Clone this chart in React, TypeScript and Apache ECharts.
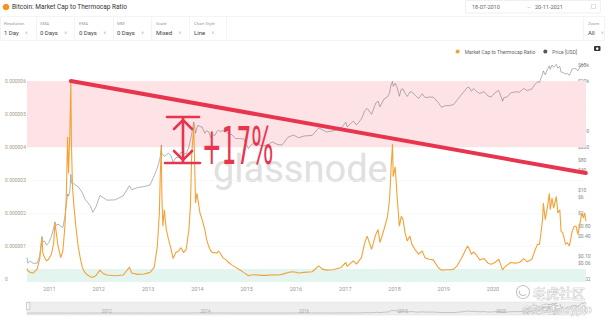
import React, { useEffect, useRef } from 'react';
import * as echarts from 'echarts';

// ---------- data ----------
const dates = [
  '2010-07-18', '2010-07-25', '2010-08-10', '2010-09-01', '2010-10-01', '2010-10-20', '2010-11-06', '2010-11-12', '2010-11-25', '2010-12-10', '2010-12-25',
  '2011-01-15', '2011-02-01', '2011-02-10', '2011-02-20', '2011-03-05', '2011-03-25', '2011-04-10', '2011-04-25', '2011-05-05', '2011-05-15', '2011-05-22', '2011-06-01', '2011-06-08', '2011-06-12', '2011-06-20', '2011-07-01', '2011-07-15', '2011-08-01', '2011-08-15', '2011-09-01', '2011-09-20', '2011-10-10', '2011-11-01', '2011-11-18', '2011-12-10',
  '2012-01-10', '2012-02-01', '2012-03-01', '2012-05-01', '2012-07-01', '2012-08-15', '2012-09-01', '2012-10-15', '2012-12-01',
  '2013-01-15', '2013-02-15', '2013-03-10', '2013-03-25', '2013-04-01', '2013-04-09', '2013-04-12', '2013-04-20', '2013-05-01', '2013-05-15', '2013-06-01', '2013-06-20', '2013-07-05', '2013-07-25', '2013-08-15', '2013-09-01', '2013-09-20', '2013-10-10', '2013-10-30', '2013-11-10', '2013-11-20', '2013-12-01', '2013-12-04', '2013-12-10', '2013-12-18', '2013-12-28',
  '2014-01-05', '2014-01-20', '2014-02-05', '2014-02-25', '2014-03-10', '2014-03-25', '2014-04-10', '2014-04-25', '2014-05-10', '2014-05-25', '2014-06-05', '2014-06-20', '2014-07-10', '2014-08-01', '2014-08-20', '2014-09-15', '2014-10-10', '2014-11-10', '2014-12-10',
  '2015-01-14', '2015-02-01', '2015-03-10', '2015-04-15', '2015-06-01', '2015-07-10', '2015-08-20', '2015-09-20', '2015-11-05', '2015-12-15',
  '2016-01-20', '2016-03-01', '2016-05-01', '2016-06-18', '2016-07-15', '2016-08-15', '2016-10-01', '2016-12-01',
  '2017-01-05', '2017-01-15', '2017-03-01', '2017-03-25', '2017-05-01', '2017-05-25', '2017-06-12', '2017-07-15', '2017-08-15', '2017-09-01', '2017-09-15', '2017-10-15', '2017-11-10', '2017-11-25', '2017-12-07', '2017-12-17', '2017-12-22',
  '2018-01-06', '2018-01-20', '2018-02-06', '2018-02-20', '2018-03-05', '2018-03-20', '2018-04-05', '2018-04-25', '2018-05-10', '2018-06-01', '2018-06-28', '2018-07-25', '2018-08-15', '2018-09-15', '2018-10-15', '2018-11-20', '2018-12-15',
  '2019-01-15', '2019-02-15', '2019-03-15', '2019-04-10', '2019-05-15', '2019-06-26', '2019-07-10', '2019-07-25', '2019-08-10', '2019-09-01', '2019-09-25', '2019-10-27', '2019-11-25', '2019-12-18',
  '2020-01-15', '2020-02-13', '2020-03-12', '2020-03-20', '2020-04-15', '2020-05-10', '2020-06-15', '2020-07-15', '2020-08-15', '2020-09-10', '2020-10-15', '2020-11-05', '2020-11-25', '2020-12-10', '2020-12-20',
  '2021-01-02', '2021-01-08', '2021-01-22', '2021-02-08', '2021-02-21', '2021-02-28', '2021-03-13', '2021-03-25', '2021-04-14', '2021-04-25', '2021-05-10', '2021-05-19', '2021-06-01', '2021-06-22', '2021-07-05', '2021-07-20', '2021-08-10', '2021-08-25', '2021-09-07', '2021-09-21', '2021-10-05', '2021-10-20', '2021-11-01', '2021-11-10', '2021-11-20',
];

// Market Cap to Thermocap Ratio, in millionths (0.000001)
const ratioMicro = [
  0.32, 0.25, 0.2, 0.18, 0.3, 0.6, 1.25, 0.8, 0.65, 0.55, 0.6,
  0.75, 1.1, 1.7, 1.4, 1.0, 0.65, 0.85, 1.6, 2.5, 4.3, 3.2, 4.5, 6.0, 4.2, 2.8, 2.2, 1.6, 1.0, 0.67, 0.35, 0.2, 0.12, 0.07, 0.05, 0.1,
  0.27, 0.17, 0.12, 0.1, 0.12, 0.36, 0.18, 0.14, 0.15,
  0.2, 0.35, 1.0, 2.0, 3.2, 4.0, 2.6, 1.6, 2.1, 1.5, 1.2, 0.9, 0.62, 0.8, 0.85, 0.95, 0.8, 0.9, 1.5, 2.2, 3.8, 4.4, 4.7, 3.8, 2.3, 2.6,
  2.4, 2.0, 1.8, 1.5, 1.2, 1.0, 0.85, 0.8, 0.8, 0.78, 0.85, 0.78, 0.64, 0.58, 0.5, 0.42, 0.36, 0.28, 0.2,
  0.1, 0.12, 0.13, 0.11, 0.11, 0.13, 0.12, 0.14, 0.2, 0.22,
  0.18, 0.2, 0.22, 0.4, 0.3, 0.27, 0.28, 0.35,
  0.5, 0.38, 0.55, 0.45, 0.65, 1.1, 1.3, 0.9, 1.35, 1.5, 1.1, 1.5, 1.9, 2.4, 3.4, 4.1, 3.1,
  3.4, 2.5, 1.6, 1.9, 1.8, 1.4, 1.15, 1.3, 1.05, 0.9, 0.75, 0.85, 0.64, 0.6, 0.58, 0.35, 0.27,
  0.28, 0.28, 0.3, 0.4, 0.65, 1.0, 0.9, 0.75, 0.82, 0.72, 0.58, 0.62, 0.48, 0.45,
  0.5, 0.6, 0.27, 0.33, 0.42, 0.5, 0.48, 0.5, 0.62, 0.52, 0.6, 0.85, 1.05, 1.05, 1.35,
  1.8, 2.3, 1.8, 2.2, 2.6, 2.1, 2.45, 2.15, 2.5, 2.0, 2.1, 1.45, 1.4, 1.05, 1.1, 1.0, 1.45, 1.6, 1.6, 1.35, 1.65, 2.0, 1.85, 2.0, 1.75,
];

// Price [USD]
const priceUsd = [
  0.09, 0.06, 0.07, 0.06, 0.06, 0.1, 0.39, 0.27, 0.28, 0.21, 0.25,
  0.39, 0.7, 1.08, 0.85, 0.92, 0.79, 0.73, 1.55, 3.4, 7.5, 6.5, 9.5, 29.6, 17, 15, 15.5, 13.8, 12.5, 10.5, 8.2, 5.3, 4.2, 3.2, 2.1, 3.0,
  6.8, 5.9, 4.9, 5.0, 6.7, 13.5, 10.2, 11.8, 12.6,
  14.2, 27, 46, 76, 104, 230, 120, 120, 105, 115, 128, 108, 68, 95, 98, 140, 125, 125, 200, 325, 500, 950, 1150, 980, 520, 740,
  920, 830, 810, 520, 630, 580, 390, 460, 450, 580, 650, 595, 625, 590, 500, 470, 360, 360, 350,
  178, 225, 290, 220, 225, 285, 235, 230, 400, 460,
  380, 430, 450, 760, 660, 570, 615, 750,
  1130, 820, 1220, 930, 1420, 2500, 2950, 1950, 4300, 4900, 3300, 5700, 6600, 8700, 16000, 19300, 13800,
  17100, 12800, 6900, 11200, 11500, 8500, 6800, 9300, 9300, 7500, 5900, 8200, 6300, 6500, 6500, 4500, 3200,
  3600, 3600, 3900, 5300, 8000, 12900, 12500, 9800, 11800, 9600, 8400, 9500, 7000, 6600,
  8800, 10300, 4900, 6200, 6600, 8700, 9400, 9200, 11800, 10300, 11500, 15600, 18700, 18200, 23500,
  32000, 40500, 30800, 46000, 57500, 45000, 61000, 52000, 63500, 49000, 56000, 37000, 36500, 32500, 34000, 29800, 46000, 48000, 46500, 41000, 51500, 65000, 61000, 68000, 59000,
];

const ratioTicks = [0, 0.000001, 0.000002, 0.000003, 0.000004, 0.000005, 0.000006];
const priceTicks = [0.02, 0.06, 0.1, 0.4, 0.8, 2, 6, 10, 40, 80, 200, 600, 1000, 4000, 8000, 20000, 60000, 100000];
const yearLabels = [2011, 2012, 2013, 2014, 2015, 2016, 2017, 2018, 2019, 2020];
const navYearLabels = [2012, 2014, 2016, 2018, 2020];
const startDate = '2010-07-18';
const endDate = '2021-11-20';
const overvaluedBand = [0.000004, 0.000006];
const undervaluedTop = 0.0000003;
const trendStart = ['2011-06-08', 0.000006];
const trendEnd = ['2021-11-18', 0.00000321];
const ratioName = 'Market Cap to Thermocap Ratio';
const priceName = 'Price [USD]';

// ---------- layout ----------
const GRID_TOP = 58;
const GRID_BOTTOM = 282;
const ZERO_Y = 279;
const PX_PER_UNIT = 33; // px per 0.000001 and per price decade
const leftMin = -((GRID_BOTTOM - ZERO_Y) / PX_PER_UNIT) * 1e-6;
const leftMax = ((ZERO_Y - GRID_TOP) / PX_PER_UNIT) * 1e-6;
const rightMin = 0.02 * Math.pow(10, -(GRID_BOTTOM - ZERO_Y) / PX_PER_UNIT);
const rightMax = 0.02 * Math.pow(10, (ZERO_Y - GRID_TOP) / PX_PER_UNIT);
const YEAR_MS = 365.25 * 24 * 3600 * 1000;

const RED = '#e8354f';
const ORANGE = '#f4a236';

const fmtPrice = (v: number) => {
  if (v < 1) return '$' + v.toFixed(2);
  if (v >= 1000) return '$' + Math.round(v / 1000) + 'k';
  return '$' + Math.round(v);
};

const dropdowns = [
  { label: 'Resolution', value: '1 Day', x: 4 },
  { label: 'SMA', value: '0 Days', x: 40 },
  { label: 'EMA', value: '0 Days', x: 79 },
  { label: 'MM', value: '0 Days', x: 117 },
  { label: 'Scale', value: 'Mixed', x: 156 },
  { label: 'Chart Style', value: 'Line', x: 194 },
  { label: 'Zoom', value: 'All', x: 588 },
];
const separators = [36, 74, 113, 151, 189, 226, 583];

function buildGraphics() {
  const g: any[] = [];
  g.push({ type: 'circle', shape: { cx: 6, cy: 7, r: 3.3 }, style: { fill: '#f7931a' } });
  g.push({ type: 'text', x: 12, y: 7, style: { text: 'Bitcoin: Market Cap to Thermocap Ratio', fontSize: 6.5, fill: '#333', verticalAlign: 'middle', fontFamily: 'Roboto' } });
  g.push({ type: 'rect', shape: { x: 465.5, y: 0.5, width: 135, height: 12.5, r: 1 }, style: { fill: '#fff', stroke: '#e6e6e6', lineWidth: 0.6 } });
  g.push({ type: 'text', x: 472, y: 7, style: { text: '18-07-2010', fontSize: 5.5, fill: '#666', verticalAlign: 'middle', fontFamily: 'Roboto' } });
  g.push({ type: 'text', x: 527, y: 7, style: { text: '–', fontSize: 5.5, fill: '#999', verticalAlign: 'middle', fontFamily: 'Roboto' } });
  g.push({ type: 'text', x: 535, y: 7, style: { text: '20-11-2021', fontSize: 5.5, fill: '#666', verticalAlign: 'middle', fontFamily: 'Roboto' } });
  g.push({ type: 'rect', shape: { x: 591.5, y: 4.5, width: 4, height: 4 }, style: { fill: 'none', stroke: '#ccc', lineWidth: 0.6 } });
  g.push({ type: 'rect', shape: { x: 0.5, y: 16.5, width: 604, height: 24 }, style: { fill: '#fff', stroke: '#ececec', lineWidth: 0.6 } });
  separators.forEach((x) => g.push({ type: 'line', shape: { x1: x + 0.5, y1: 17, x2: x + 0.5, y2: 40 }, style: { stroke: '#ececec', lineWidth: 0.6 } }));
  dropdowns.forEach((d) => {
    g.push({ type: 'text', x: d.x, y: 23, style: { text: d.label, fontSize: 4.3, fill: '#9a9a9a', verticalAlign: 'middle', fontFamily: 'Roboto' } });
    g.push({
      type: 'text', x: d.x, y: 32,
      style: {
        text: `{v|${d.value}}  {c|∨}`, verticalAlign: 'middle', fontFamily: 'Roboto',
        rich: { v: { fontSize: 6, fill: '#444', fontFamily: 'Roboto' }, c: { fontSize: 4.5, fill: '#aaa', fontFamily: 'DejaVu Sans' } },
      },
    });
  });
  g.push({ type: 'rect', shape: { x: 594, y: 46, width: 6.5, height: 5, r: 1 }, style: { fill: '#333' } });
  g.push({ type: 'circle', shape: { cx: 597.25, cy: 48.6, r: 1.3 }, style: { fill: '#fff' } });
  g.push({ type: 'text', x: 213, y: 169, z: 0, style: { text: 'glassnode', fontSize: 38, fill: '#e0e0e0', verticalAlign: 'middle', fontFamily: 'Roboto' } });
  g.push({ type: 'rect', z: 10, shape: { x: 26.5, y: 302.5, width: 3.5, height: 7 }, style: { fill: '#f6f6f6', stroke: '#aaa', lineWidth: 0.5 } });
  const redLine = { stroke: RED, lineWidth: 2.6, lineCap: 'round' };
  g.push({ type: 'line', z: 100, shape: { x1: 167, y1: 117, x2: 199, y2: 117 }, style: redLine });
  g.push({ type: 'line', z: 100, shape: { x1: 165, y1: 163, x2: 200, y2: 163 }, style: redLine });
  g.push({ type: 'line', z: 100, shape: { x1: 183, y1: 118, x2: 183, y2: 162 }, style: redLine });
  g.push({ type: 'polyline', z: 100, shape: { points: [[174, 129], [183, 120], [192, 129]] }, style: { ...redLine, fill: 'none' } });
  g.push({ type: 'polyline', z: 100, shape: { points: [[174, 151], [183, 160], [192, 151]] }, style: { ...redLine, fill: 'none' } });
  g.push({ type: 'text', z: 100, x: 202, y: 147, scaleX: 0.45, style: { text: '+17%', fontSize: 52, fill: RED, verticalAlign: 'middle', fontFamily: 'DejaVu Sans' } });
  g.push({ type: 'circle', z: 100, shape: { cx: 523, cy: 292, r: 6.5 }, style: { fill: 'none', stroke: '#c4c4c4', lineWidth: 1.1 } });
  g.push({ type: 'arc', z: 100, shape: { cx: 523, cy: 292, r: 3.5, startAngle: 0.6, endAngle: 3.6 }, style: { fill: 'none', stroke: '#c4c4c4', lineWidth: 1.1 } });
  g.push({ type: 'text', z: 100, x: 533, y: 292.5, style: { text: '老虎社区', fontSize: 13, fill: '#f4f4f4', stroke: '#b8b8b8', lineWidth: 0.7, verticalAlign: 'middle', fontFamily: 'Noto Sans CJK SC' } });
  g.push({ type: 'text', z: 100, x: 522, y: 308, style: { text: '@加密杨crypto', fontSize: 10, fill: '#ffffff', stroke: '#9c9c9c', lineWidth: 0.6, verticalAlign: 'middle', fontFamily: 'Noto Sans CJK SC' } });
  return g;
}

export default function App() {
  const ref = useRef<HTMLDivElement>(null);
  useEffect(() => {
    const chart = echarts.init(ref.current!, null, { renderer: 'svg' });
    const ratioData = dates.map((d, i) => [d, ratioMicro[i] * 1e-6]);
    const priceData = dates.map((d, i) => [d, priceUsd[i]]);
    const yearFmt = (years: number[]) => (v: number) => {
      const dt = new Date(v);
      const y = dt.getFullYear();
      return dt.getMonth() === 0 && dt.getDate() === 1 && years.indexOf(y) >= 0 ? String(y) : '';
    };
    chart.setOption({
      animation: false,
      backgroundColor: '#ffffff',
      textStyle: { fontFamily: 'Roboto' },
      legend: {
        data: [ratioName, priceName],
        right: 23, top: 44, icon: 'circle', itemWidth: 4, itemHeight: 4, itemGap: 8,
        textStyle: { fontSize: 5, color: '#666', fontFamily: 'Roboto' },
      },
      grid: [
        { left: 27, right: 19, top: GRID_TOP, height: GRID_BOTTOM - GRID_TOP },
        { left: 27, right: 19, top: 302, height: 13, show: true, backgroundColor: '#eeeeee', borderColor: '#dddddd', borderWidth: 0.5 },
      ],
      xAxis: [
        {
          type: 'time', gridIndex: 0, min: startDate, max: endDate,
          minInterval: YEAR_MS, maxInterval: YEAR_MS,
          axisLine: { show: false }, axisTick: { show: false }, splitLine: { show: false },
          axisLabel: { formatter: yearFmt(yearLabels), fontSize: 5.5, color: '#999', margin: 4, hideOverlap: false },
        },
        {
          type: 'time', gridIndex: 1, min: startDate, max: endDate,
          minInterval: YEAR_MS, maxInterval: YEAR_MS,
          axisLine: { show: false }, axisTick: { show: false }, splitLine: { show: false },
          axisLabel: { inside: true, formatter: yearFmt(navYearLabels), fontSize: 4.5, color: '#aaa', margin: 1, align: 'left', padding: [0, 0, 0, 3], hideOverlap: false },
        },
      ],
      yAxis: [
        {
          type: 'value', gridIndex: 0, position: 'left', min: leftMin, max: leftMax,
          axisLine: { show: false },
          axisTick: { show: false, customValues: ratioTicks },
          axisLabel: {
            customValues: ratioTicks, align: 'left', margin: 22, fontSize: 5, color: '#a89a86',
            formatter: (v: number) => (Math.abs(v) < 1e-12 ? '0' : v.toFixed(6)),
          },
          splitLine: { show: true, lineStyle: { color: '#f3f3f3', width: 0.5 } },
        },
        {
          type: 'log', gridIndex: 0, position: 'right', min: rightMin, max: rightMax, logBase: 10,
          axisLine: { show: false }, axisTick: { show: false }, splitLine: { show: false },
          axisLabel: { customValues: priceTicks, formatter: fmtPrice, align: 'left', margin: -8, fontSize: 5, color: '#888' },
        },
        { type: 'value', gridIndex: 1, min: -12000, max: 70000, show: false, splitLine: { show: false } },
      ],
      series: [
        {
          name: priceName, type: 'line', xAxisIndex: 0, yAxisIndex: 1, data: priceData,
          showSymbol: false, z: 2, lineStyle: { color: '#6a6a6a', width: 0.5 }, itemStyle: { color: '#555' },
        },
        {
          name: ratioName, type: 'line', xAxisIndex: 0, yAxisIndex: 0, data: ratioData,
          showSymbol: false, z: 3, lineStyle: { color: ORANGE, width: 1.1 }, itemStyle: { color: ORANGE },
          markArea: {
            silent: true,
            data: [
              [{ yAxis: overvaluedBand[0], itemStyle: { color: '#fde3e6' } }, { yAxis: overvaluedBand[1] }],
              [{ yAxis: leftMin, itemStyle: { color: '#e3f5ee' } }, { yAxis: undervaluedTop }],
            ],
          },
          markLine: {
            silent: true, symbol: ['none', 'none'], label: { show: false },
            lineStyle: { color: RED, width: 4, type: 'solid', cap: 'round' },
            data: [[{ coord: trendStart }, { coord: trendEnd }]],
          },
        },
        {
          name: 'navigator', type: 'line', xAxisIndex: 1, yAxisIndex: 2, data: priceData,
          showSymbol: false, silent: true, lineStyle: { color: '#9a9a9a', width: 0.5 },
        },
      ],
      graphic: buildGraphics(),
    });
    return () => chart.dispose();
  }, []);
  return <div ref={ref} style={{ position: 'fixed', left: 0, top: 0, width: 605, height: 319, background: '#fff' }} />;
}
